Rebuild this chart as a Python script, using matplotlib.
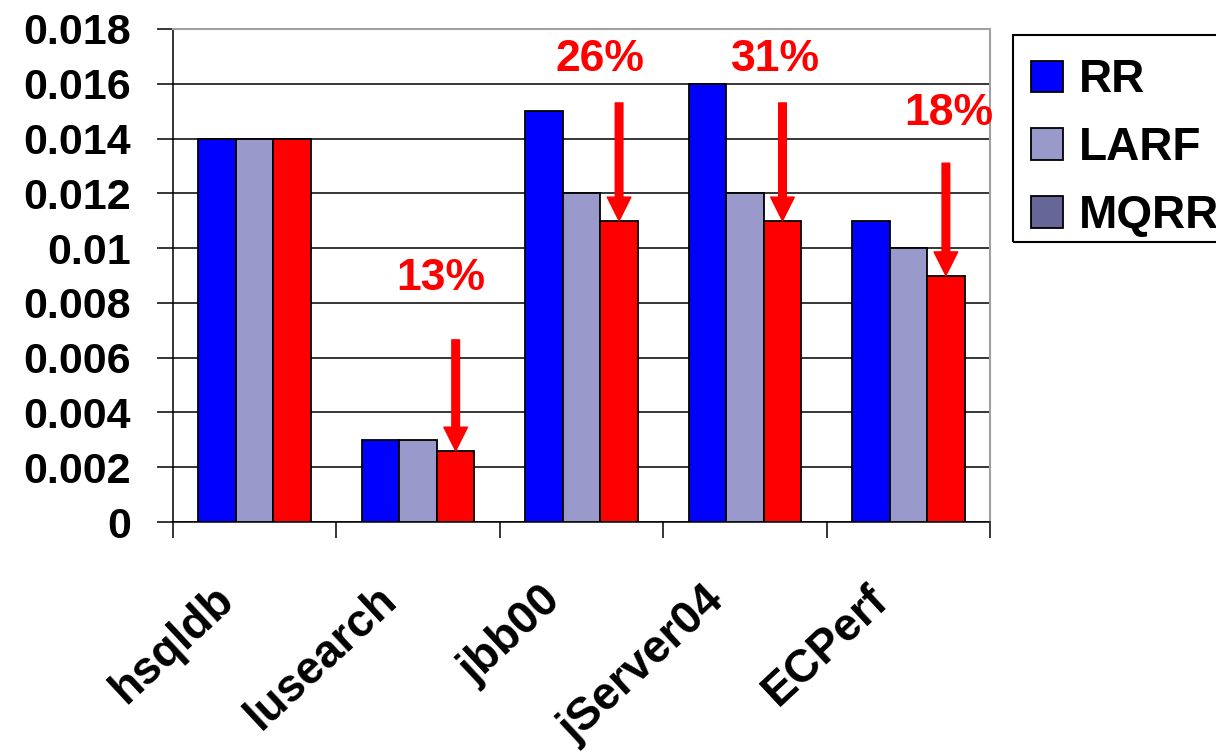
import matplotlib
matplotlib.use('Agg')
import matplotlib.pyplot as plt
import matplotlib.transforms as mtransforms
from matplotlib.patches import Patch, Rectangle
import numpy as np

plt.rcParams['font.family'] = ['Liberation Sans', 'DejaVu Sans']
plt.rcParams['font.weight'] = 'bold'

# data
benchmarks = ['hsqldb', 'lusearch', 'jbb00', 'jServer04', 'ECPerf']
rr = [0.014, 0.003, 0.015, 0.016, 0.011]
larf = [0.014, 0.003, 0.012, 0.012, 0.010]
mqrr = [0.014, 0.0026, 0.011, 0.011, 0.009]
series_names = ['RR', 'LARF', 'MQRR']

# improvement labels (over the MQRR bar of each benchmark)
gains = ['13%', '26%', '31%', '18%']
gain_idx = [1, 2, 3, 4]
arrow_from = [0.00665, 0.0153, 0.0153, 0.0131]
label_y = [0.0089, 0.0169, 0.0169, 0.0149]
label_dx = [-0.09, -0.12, -0.04, 0.02]

yticks = [0, 0.002, 0.004, 0.006, 0.008, 0.01, 0.012, 0.014, 0.016, 0.018]
ytick_labels = ['0', '0.002', '0.004', '0.006', '0.008', '0.01', '0.012', '0.014', '0.016', '0.018']

c_rr = '#0000FF'
c_larf = '#9999CC'
c_mqrr_bar = '#FF0000'
c_mqrr_leg = '#666699'

fig = plt.figure(figsize=(12.16, 7.55), dpi=100)
ax = fig.add_axes([173 / 1216, 1 - 522 / 755, 817 / 1216, 493 / 755])

x = np.arange(len(benchmarks))
w = 0.23
ax.bar(x - w, rr, w, color=c_rr, edgecolor='black', linewidth=1.3, zorder=3)
ax.bar(x, larf, w, color=c_larf, edgecolor='black', linewidth=1.3, zorder=3)
ax.bar(x + w, mqrr, w, color=c_mqrr_bar, edgecolor='black', linewidth=1.3, zorder=3)

ax.set_xlim(-0.5, len(benchmarks) - 0.5)
ax.set_ylim(0, 0.018)
ax.set_yticks(yticks)
ax.set_yticklabels(ytick_labels, fontsize=31, fontweight='bold')
ax.tick_params(axis='y', direction='out', length=11.5, width=1.1, pad=19)

ax.set_xticks(x)
ax.set_xticklabels(benchmarks, fontsize=33, fontweight='bold', rotation=43,
                   ha='right', va='top', rotation_mode='anchor')
ax.tick_params(axis='x', which='major', length=0, pad=40)
ax.set_xticks(np.arange(-0.5, len(benchmarks)), minor=True)
ax.tick_params(axis='x', which='minor', direction='out', length=11.5, width=1.1)
shift = mtransforms.ScaledTranslation(-0.42, 0, fig.dpi_scale_trans)
for lab in ax.get_xticklabels():
    lab.set_transform(lab.get_transform() + shift)

ax.set_axisbelow(True)
ax.yaxis.grid(True, color='black', linewidth=1.1)
for s in ['left', 'bottom']:
    ax.spines[s].set_color('black')
    ax.spines[s].set_linewidth(1.1)
for s in ['top', 'right']:
    ax.spines[s].set_color('#A0A0A0')
    ax.spines[s].set_linewidth(1.5)

for i, g in enumerate(gains):
    k = gain_idx[i]
    ax.annotate('', xy=(k + w, mqrr[k]), xytext=(k + w, arrow_from[i]),
                arrowprops=dict(facecolor='red', edgecolor='red', width=5.5,
                                headwidth=17, headlength=17, shrink=0),
                zorder=5)
    ax.text(k + w + label_dx[i], label_y[i], g, color='red', fontsize=32,
            fontweight='bold', ha='center', va='center', zorder=5)

# legend (frame drawn separately, runs off the right edge like the original)
handles = [Patch(facecolor=c, edgecolor='black', linewidth=1.3)
           for c in [c_rr, c_larf, c_mqrr_leg]]
leg = fig.legend(handles, series_names, loc='upper left',
                 bbox_to_anchor=(1013 / 1216, 1 - 40 / 755), borderaxespad=0,
                 prop={'weight': 'bold', 'size': 33},
                 handlelength=0.68, handleheight=0.68, handletextpad=0.35,
                 labelspacing=0.52, borderpad=0.4, frameon=False)
fig.patches.append(Rectangle((1013 / 1216, 1 - 242 / 755), 0.3, 207 / 755,
                             transform=fig.transFigure, fill=False,
                             edgecolor='black', linewidth=1.5))

fig.savefig('out.png', dpi=100)
